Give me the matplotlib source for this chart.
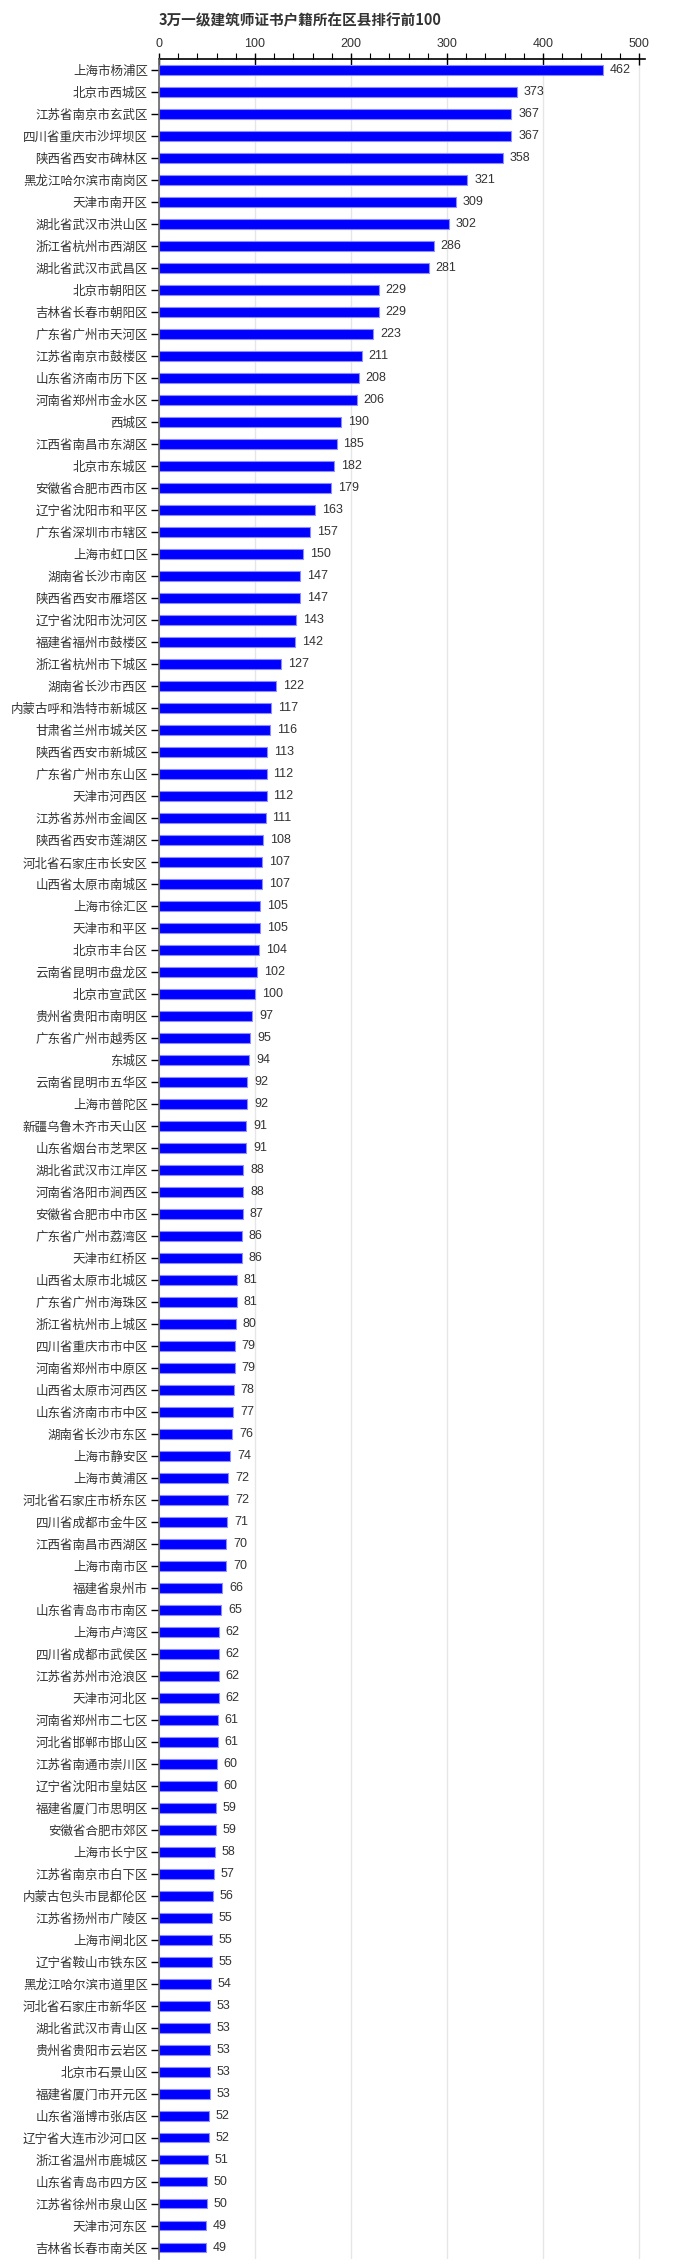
import matplotlib
matplotlib.use("Agg")
import matplotlib.pyplot as plt
from matplotlib.ticker import MultipleLocator

categories = [
    "上海市杨浦区", "北京市西城区", "江苏省南京市玄武区", "四川省重庆市沙坪坝区", "陕西省西安市碑林区",
    "黑龙江哈尔滨市南岗区", "天津市南开区", "湖北省武汉市洪山区", "浙江省杭州市西湖区", "湖北省武汉市武昌区",
    "北京市朝阳区", "吉林省长春市朝阳区", "广东省广州市天河区", "江苏省南京市鼓楼区", "山东省济南市历下区",
    "河南省郑州市金水区", "西城区", "江西省南昌市东湖区", "北京市东城区", "安徽省合肥市西市区",
    "辽宁省沈阳市和平区", "广东省深圳市市辖区", "上海市虹口区", "湖南省长沙市南区", "陕西省西安市雁塔区",
    "辽宁省沈阳市沈河区", "福建省福州市鼓楼区", "浙江省杭州市下城区", "湖南省长沙市西区", "内蒙古呼和浩特市新城区",
    "甘肃省兰州市城关区", "陕西省西安市新城区", "广东省广州市东山区", "天津市河西区", "江苏省苏州市金阊区",
    "陕西省西安市莲湖区", "河北省石家庄市长安区", "山西省太原市南城区", "上海市徐汇区", "天津市和平区",
    "北京市丰台区", "云南省昆明市盘龙区", "北京市宣武区", "贵州省贵阳市南明区", "广东省广州市越秀区",
    "东城区", "云南省昆明市五华区", "上海市普陀区", "新疆乌鲁木齐市天山区", "山东省烟台市芝罘区",
    "湖北省武汉市江岸区", "河南省洛阳市涧西区", "安徽省合肥市中市区", "广东省广州市荔湾区", "天津市红桥区",
    "山西省太原市北城区", "广东省广州市海珠区", "浙江省杭州市上城区", "四川省重庆市市中区", "河南省郑州市中原区",
    "山西省太原市河西区", "山东省济南市市中区", "湖南省长沙市东区", "上海市静安区", "上海市黄浦区",
    "河北省石家庄市桥东区", "四川省成都市金牛区", "江西省南昌市西湖区", "上海市南市区", "福建省泉州市",
    "山东省青岛市市南区", "上海市卢湾区", "四川省成都市武侯区", "江苏省苏州市沧浪区", "天津市河北区",
    "河南省郑州市二七区", "河北省邯郸市邯山区", "江苏省南通市崇川区", "辽宁省沈阳市皇姑区", "福建省厦门市思明区",
    "安徽省合肥市郊区", "上海市长宁区", "江苏省南京市白下区", "内蒙古包头市昆都伦区", "江苏省扬州市广陵区",
    "上海市闸北区", "辽宁省鞍山市铁东区", "黑龙江哈尔滨市道里区", "河北省石家庄市新华区", "湖北省武汉市青山区",
    "贵州省贵阳市云岩区", "北京市石景山区", "福建省厦门市开元区", "山东省淄博市张店区", "辽宁省大连市沙河口区",
    "浙江省温州市鹿城区", "山东省青岛市四方区", "江苏省徐州市泉山区", "天津市河东区", "吉林省长春市南关区",
]
values = [
    462, 373, 367, 367, 358, 321, 309, 302, 286, 281,
    229, 229, 223, 211, 208, 206, 190, 185, 182, 179,
    163, 157, 150, 147, 147, 143, 142, 127, 122, 117,
    116, 113, 112, 112, 111, 108, 107, 107, 105, 105,
    104, 102, 100, 97, 95, 94, 92, 92, 91, 91,
    88, 88, 87, 86, 86, 81, 81, 80, 79, 79,
    78, 77, 76, 74, 72, 72, 71, 70, 70, 66,
    65, 62, 62, 62, 62, 61, 61, 60, 60, 59,
    59, 58, 57, 56, 55, 55, 55, 54, 53, 53,
    53, 53, 53, 52, 52, 51, 50, 50, 49, 49,
]
xticks = [0, 100, 200, 300, 400, 500]
title = "3万一级建筑师证书户籍所在区县排行前100"

CJK = ["Noto Sans CJK SC", "DejaVu Sans"]
NUM = ["Liberation Sans", "DejaVu Sans"]
plt.rcParams["font.family"] = CJK

W, H = 679, 2264
fig = plt.figure(figsize=(W / 100, H / 100), dpi=100)
x0, x500 = 159, 639
px_per_unit = (x500 - x0) / 500.0
xmax = 506
top_px, bot_px = 59.3, 2258.5
ax = fig.add_axes([x0 / W, 1 - bot_px / H, xmax * px_per_unit / W, (bot_px - top_px) / H])

ypos = list(range(len(categories)))
ax.barh(ypos, values, height=0.45, color="#0000FF", edgecolor="#8c8cff", linewidth=0.8, zorder=3)
ax.set_ylim(len(categories) - 0.5, -0.5)
ax.set_xlim(0, xmax)

ax.xaxis.tick_top()
ax.set_xticks(xticks)
ax.set_xticklabels([str(t) for t in xticks], family=NUM, fontsize=9, color="#333333")
ax.xaxis.set_minor_locator(MultipleLocator(20))
ax.tick_params(axis="x", which="major", direction="inout", length=8, width=1, color="#000000", pad=3)
ax.tick_params(axis="x", which="minor", direction="out", length=4, width=0.8, color="#000000")

ax.set_yticks(ypos)
ax.set_yticklabels(categories, fontsize=9, color="#333333")
ax.tick_params(axis="y", direction="out", length=6, width=1, color="#000000", pad=2)

for s in ["right", "bottom"]:
    ax.spines[s].set_visible(False)
ax.spines["top"].set_color("#000000")
ax.spines["top"].set_linewidth(1.2)
ax.spines["left"].set_color("#666666")
ax.spines["left"].set_linewidth(1.2)
ax.spines["left"].set_zorder(4)

ax.grid(axis="x", which="major", color="#e6e6e6", linewidth=1, zorder=0)
ax.set_axisbelow(True)

for y, v in zip(ypos, values):
    ax.annotate(str(v), xy=(v, y), xytext=(5, 0), textcoords="offset points",
                ha="left", va="center", fontsize=9, color="#333333", family=NUM)

fig.text(x0 / W, 1 - 20 / H, title, ha="left", va="center", fontsize=10.5,
         fontweight="bold", color="#333333")

fig.savefig("out.png", dpi=100)
